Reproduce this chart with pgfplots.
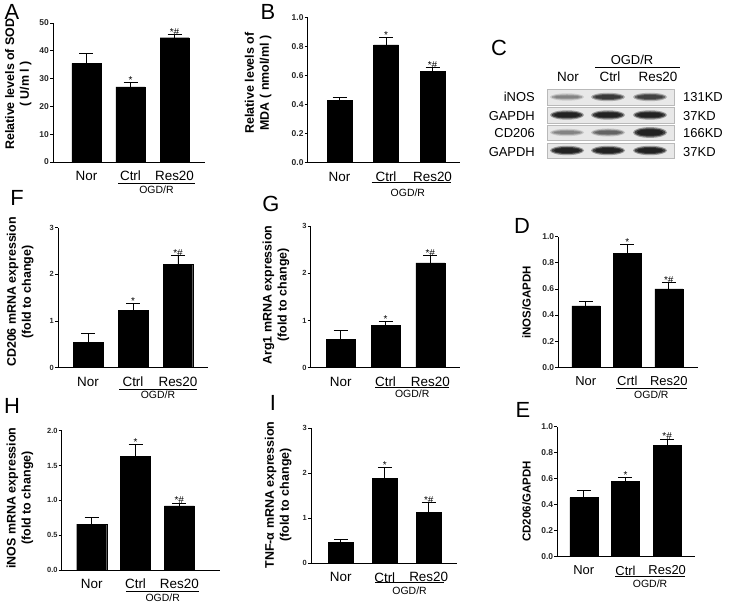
\documentclass[border=0pt]{standalone}
\usepackage{fontspec}
\setmainfont{Liberation Sans}
\usepackage{pgfplots}
\pgfplotsset{compat=1.18}
\pgfplotsset{
  panel/.style={
    scale only axis, anchor=south west, clip=false,
    axis x line*=bottom, axis y line*=left,
    axis line style={-, black, line width=0.9bp},
    ymin=0,
    xtick={0,1,2},
    xticklabels={Nor,Ctrl,Res20},
    x tick style={draw=none},
    tick align=outside,
    y tick style={black, line width=0.8bp},
    major tick length=3bp,
    yticklabel style={font=\bfseries\fontsize{8.5}{9}\selectfont, inner sep=1bp, text=black!85},
    xticklabel style={font=\fontsize{13.5}{14}\selectfont, inner sep=0pt, yshift=-6bp},
    /pgf/number format/assume math mode=true,
    ylabel style={font=\bfseries\fontsize{12.5}{15}\selectfont, align=center, anchor=south},
  },
  onedec/.style={yticklabel style={/pgf/number format/.cd, fixed, fixed zerofill, precision=1}},
  smalltick/.style={yticklabel style={font=\bfseries\fontsize{7.5}{8}\selectfont}},
  barplot/.style={ybar, fill=black, draw=black, bar width=#1,
    error bars/.cd, y dir=plus, y explicit,
    error bar style={line width=0.9bp, black},
    error mark options={rotate=90, mark size=7bp, line width=0.9bp, black}},
  sig/.style={draw=none, mark=none, nodes near coords={\pgfplotspointmeta},
    point meta=explicit symbolic,
    nodes near coords style={font=\fontsize{10}{10}\selectfont, anchor=south, inner sep=0pt, yshift=-1bp}},
}
% #1 start, #2 end, #3 mid, #4 underline shift, #5 text shift
\newcommand{\ogd}[5]{%
  \draw[line width=0.8bp] ([yshift=-#4bp]axis cs:#1,0) -- ([yshift=-#4bp]axis cs:#2,0);
  \node[font=\fontsize{10.5}{11}\selectfont, inner sep=0pt] at ([yshift=-#5bp]axis cs:#3,0) {OGD/R};
}
\newcommand{\panelletter}[3]{\node[font=\fontsize{22}{22}\selectfont, inner sep=0pt] at (#1,#2) {#3};}
\newcommand{\band}[4]{% x, y, opacity, half height
  \fill[black, opacity=#3*0.35] (#1,#2) ellipse (17 and #4+1.2);
  \fill[black, opacity=#3*0.6] (#1,#2) ellipse (15.5 and #4);
  \fill[black, opacity=#3*0.5] (#1,#2) ellipse (13 and #4-1);
}
\begin{document}
\begin{tikzpicture}[x=1bp,y=1bp]
\useasboundingbox (0,0) rectangle (733,606);

% ---------- A ----------
\begin{axis}[panel, at={(53bp,444bp)}, width=152bp, height=139bp,
  xmin=-0.761, xmax=2.693, ymax=50, ytick={0,10,20,30,40,50},
  ylabel={Relative levels of SOD\\( U/m l )},
  ylabel style={at={(axis description cs:-0.118,0.56)}}]
\addplot[barplot=29bp] coordinates {(0,35.5) +- (0,3.4) (1,27) +- (0,1.5) (2,44.7) +- (0,1.1)};
\addplot[sig] coordinates {(1,28.5) [*] (2,45.8) [*\#]};
\ogd{0.716}{2.466}{1.59}{21}{28}
\end{axis}

% ---------- B ----------
\begin{axis}[panel, onedec, at={(307.7bp,443.3bp)}, width=152.3bp, height=145.4bp,
  xmin=-0.684, xmax=2.591, ymax=1.0, ytick={0,0.2,0.4,0.6,0.8,1.0},
  ylabel={Relative levels of\\MDA ( nmol/ml )},
  ylabel style={at={(axis description cs:-0.215,0.548)}}]
\addplot[barplot=25bp] coordinates {(0,0.43) +- (0,0.016) (1,0.81) +- (0,0.05) (2,0.63) +- (0,0.024)};
\addplot[sig] coordinates {(1,0.86) [*] (2,0.654) [*\#]};
\ogd{0.69}{2.39}{1.47}{20}{30}
\end{axis}

% ---------- F ----------
\begin{axis}[panel, smalltick, at={(58bp,238.3bp)}, width=150bp, height=140bp,
  xmin=-0.667, xmax=2.667, ymax=3, ytick={0,1,2,3},
  ylabel={CD206 mRNA expression\\(fold to change)},
  ylabel style={at={(axis description cs:-0.14,0.54)}}]
\addplot[barplot=29.5bp] coordinates {(0,0.55) +- (0,0.18) (1,1.23) +- (0,0.14) (2,2.22) +- (0,0.18)};
\addplot[sig] coordinates {(1,1.37) [*] (2,2.4) [*\#]};
\ogd{0.69}{2.42}{1.555}{22}{27}
\end{axis}

% ---------- G ----------
\begin{axis}[panel, smalltick, at={(310.7bp,238.3bp)}, width=149.3bp, height=141.7bp,
  xmin=-0.670, xmax=2.663, ymax=3, ytick={0,1,2,3},
  ylabel={Arg1 mRNA expression\\(fold to change)},
  ylabel style={at={(axis description cs:-0.12,0.513)}}]
\addplot[barplot=29bp] coordinates {(0,0.6) +- (0,0.18) (1,0.9) +- (0,0.08) (2,2.22) +- (0,0.15)};
\addplot[sig] coordinates {(1,0.98) [*] (2,2.37) [*\#]};
\ogd{0.77}{2.42}{1.595}{20}{26}
\end{axis}

% ---------- D ----------
\begin{axis}[panel, onedec, at={(558.3bp,238.7bp)}, width=139.7bp, height=130.6bp,
  xmin=-0.663, xmax=2.704, ymax=1.0, ytick={0,0.2,0.4,0.6,0.8,1.0},
  xticklabels={Nor,Crtl,Res20},
  xticklabel style={font=\fontsize{13}{14}\selectfont},
  ylabel={iNOS/GAPDH},
  ylabel style={font=\bfseries\fontsize{11.5}{13}\selectfont, at={(axis description cs:-0.172,0.496)}}]
\addplot[barplot=28bp] coordinates {(0,0.47) +- (0,0.035) (1,0.87) +- (0,0.07) (2,0.6) +- (0,0.05)};
\addplot[sig] coordinates {(1,0.94) [*] (2,0.65) [*\#]};
\ogd{0.73}{2.43}{1.58}{21}{27}
\end{axis}

% ---------- H ----------
\begin{axis}[panel, smalltick, onedec, at={(61.7bp,36bp)}, width=158.3bp, height=139.3bp,
  xmin=-0.685, xmax=2.929, ymax=2.0, ytick={0,0.5,1.0,1.5,2.0},
  ylabel={iNOS mRNA expression\\(fold to change)},
  ylabel style={at={(axis description cs:-0.158,0.517)}}]
\addplot[barplot=30bp] coordinates {(0,0.66) +- (0,0.09) (1,1.63) +- (0,0.17) (2,0.92) +- (0,0.04)};
\addplot[sig] coordinates {(1,1.8) [*] (2,0.96) [*\#]};
\ogd{0.78}{2.46}{1.62}{21}{28}
\end{axis}

% ---------- I ----------
\begin{axis}[panel, smalltick, at={(311bp,42.7bp)}, width=145.7bp, height=135bp,
  xmin=-0.678, xmax=2.637, ymax=3, ytick={0,1,2,3},
  ylabel={TNF-α mRNA expression\\(fold to change)},
  ylabel style={at={(axis description cs:-0.11,0.506)}}]
\addplot[barplot=25bp] coordinates {(0,0.47) +- (0,0.06) (1,1.88) +- (0,0.24) (2,1.13) +- (0,0.22)};
\addplot[sig] coordinates {(1,2.12) [*] (2,1.35) [*\#]};
\ogd{0.78}{2.35}{1.565}{19.3}{27}
\end{axis}

% ---------- E ----------
\begin{axis}[panel, onedec, at={(557.3bp,49.3bp)}, width=137.7bp, height=130bp,
  xmin=-0.635, xmax=2.667, ymax=1.0, ytick={0,0.2,0.4,0.6,0.8,1.0},
  xticklabel style={font=\fontsize{13}{14}\selectfont},
  ylabel={CD206/GAPDH},
  ylabel style={font=\bfseries\fontsize{11.5}{13}\selectfont, at={(axis description cs:-0.167,0.425)}}]
\addplot[barplot=28bp] coordinates {(0,0.455) +- (0,0.055) (1,0.58) +- (0,0.03) (2,0.855) +- (0,0.05)};
\addplot[sig] coordinates {(1,0.61) [*] (2,0.905) [*\#]};
\ogd{0.75}{2.43}{1.59}{20}{27}
\end{axis}

% ---------- C: western blot ----------
\node[font=\fontsize{13}{14}\selectfont, inner sep=0pt] at (632,546) {OGD/R};
\draw[line width=0.8bp] (595,539) -- (680,539);
\node[font=\fontsize{13.5}{14}\selectfont, inner sep=0pt] at (568,529) {Nor};
\node[font=\fontsize{13.5}{14}\selectfont, inner sep=0pt] at (610,529) {Ctrl};
\node[font=\fontsize{13.5}{14}\selectfont, inner sep=0pt] at (658,529) {Res20};
\foreach \yl/\yh in {501/517, 483/499, 466/481, 448/463} {
  \fill[gray!18] (547,\yl) rectangle (674,\yh);
  \draw[gray!55, line width=0.6bp] (547,\yl) rectangle (674,\yh);
}
\band{567}{509}{0.35}{2.5}
\band{608}{509}{0.75}{3}
\band{650}{509}{0.7}{3}
\band{567}{491}{0.95}{3.5}
\band{608}{491}{0.95}{3.5}
\band{650}{491}{0.95}{3.5}
\band{567}{473.5}{0.35}{2.5}
\band{608}{473.5}{0.5}{2.8}
\band{650}{473.5}{0.95}{4.2}
\band{567}{455.5}{0.95}{3.5}
\band{608}{455.5}{0.95}{3.5}
\band{650}{455.5}{0.95}{3.5}
\foreach \y/\t in {509/iNOS, 490/GAPDH, 473/CD206, 454/GAPDH}
  \node[font=\fontsize{13}{14}\selectfont, anchor=east, inner sep=0pt] at (535,\y) {\t};
\foreach \y/\t in {509/131KD, 490/37KD, 473/166KD, 454/37KD}
  \node[font=\fontsize{13}{14}\selectfont, anchor=west, inner sep=0pt] at (683,\y) {\t};

% ---------- panel letters ----------
\panelletter{12}{594}{A}
\panelletter{268}{594}{B}
\panelletter{499}{558}{C}
\panelletter{522}{380}{D}
\panelletter{523}{196}{E}
\panelletter{17}{408}{F}
\panelletter{271}{402}{G}
\panelletter{12}{200}{H}
\panelletter{273}{203}{I}
\end{tikzpicture}
\end{document}
